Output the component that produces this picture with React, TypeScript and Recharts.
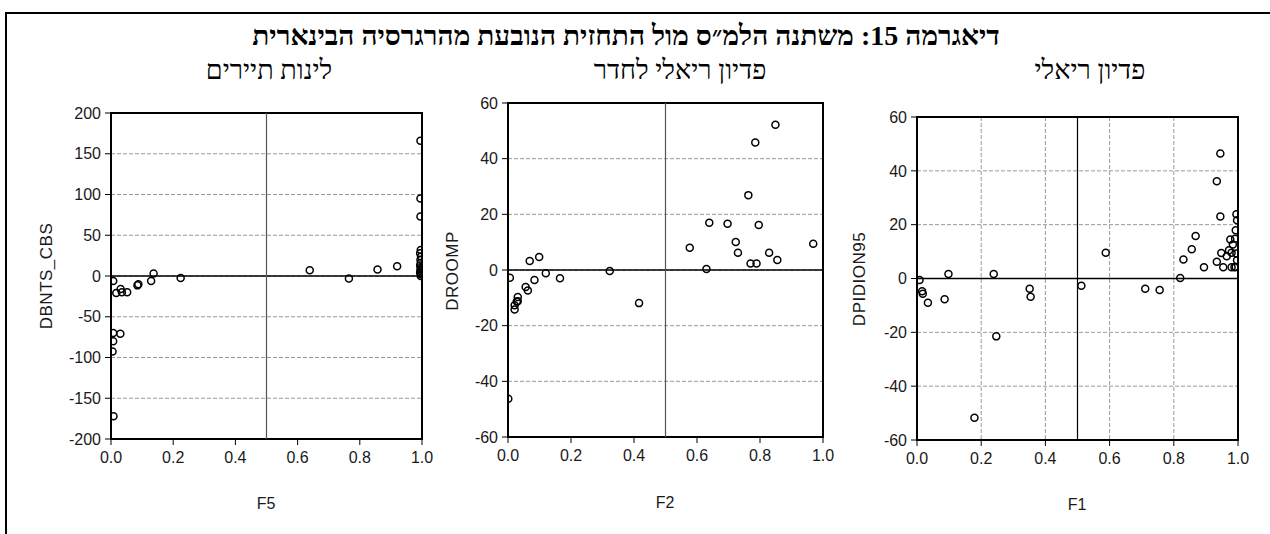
import React from "react";
import {
  ScatterChart,
  Scatter,
  XAxis,
  YAxis,
  CartesianGrid,
  ReferenceLine,
  ReferenceArea,
} from "recharts";

// ---- Titles ----
const mainTitle = "דיאגרמה 15: משתנה הלמ״ס מול התחזית הנובעת מהרגרסיה הבינארית";
const panelTitles = ["לינות תיירים", "פדיון ריאלי לחדר", "פדיון ריאלי"];
const xAxisNames = ["F5", "F2", "F1"];
const yAxisNames = ["DBNTS_CBS", "DROOMP", "DPIDION95"];

// ---- Tick labels ----
const xTicks = [0, 0.2, 0.4, 0.6, 0.8, 1.0];
const yTicks1 = [-200, -150, -100, -50, 0, 50, 100, 150, 200];
const yTicks2 = [-60, -40, -20, 0, 20, 40, 60];
const yTicks3 = [-60, -40, -20, 0, 20, 40, 60];

// ---- Panel 1: F5 vs DBNTS_CBS ----
const F5 = [
  0.007, 0.017, 0.031, 0.035, 0.052, 0.085, 0.088, 0.129, 0.137, 0.224,
  0.007, 0.007, 0.005, 0.030, 0.008,
  0.639, 0.765, 0.857, 0.920,
  0.995, 0.995, 0.995, 0.996, 0.994, 0.997, 0.995, 0.996, 0.994, 0.997, 0.995, 0.996, 0.994, 0.997, 0.996,
];
const DBNTS_CBS = [
  -6, -21, -16, -20, -20, -11.5, -10, -6, 3, -2.5,
  -70, -80, -92.5, -71, -172,
  7, -3, 8, 12,
  166, 95, 73, 32, 28, 24, 20, 16, 13, 10, 8, 6, 4, 2, 0,
];

// ---- Panel 2: F2 vs DROOMP ----
const F2 = [
  0.849, 0.785, 0.763, 0.639, 0.697, 0.796, 0.969, 0.723, 0.730, 0.829,
  0.577, 0.770, 0.789, 0.855, 0.630, 0.323, 0.416, 0.165, 0.120, 0.084,
  0.099, 0.069, 0.056, 0.063, 0.006, 0.031, 0.031, 0.021, 0.021, 0.028, 0.001,
];
const DROOMP = [
  52.2, 45.8, 26.9, 17.0, 16.6, 16.2, 9.4, 10.1, 6.2, 6.2,
  8.0, 2.3, 2.3, 3.6, 0.4, -0.4, -11.9, -3.0, -1.2, -3.6,
  4.7, 3.2, -6.1, -7.4, -2.8, -9.7, -11.2, -12.7, -14.2, -11.3, -46.3,
];

// ---- Panel 3: F1 vs DPIDION95 ----
const F1 = [
  0.008, 0.016, 0.018, 0.034, 0.086, 0.098, 0.179, 0.239, 0.247, 0.351,
  0.354, 0.512, 0.588, 0.711, 0.756, 0.820, 0.830, 0.856, 0.868, 0.894,
  0.934, 0.945, 0.945, 0.934, 0.948, 0.954, 0.965, 0.972, 0.976, 0.980,
  0.984, 0.980, 0.989, 0.991, 0.993, 0.995, 0.997, 0.995, 0.997, 0.993,
];
const DPIDION95 = [
  -0.6, -4.7, -5.7, -9.0, -7.7, 1.7, -51.7, 1.7, -21.5, -3.8,
  -6.8, -2.7, 9.6, -3.8, -4.3, 0.2, 7.1, 10.9, 15.8, 4.2,
  36.1, 46.4, 23.0, 6.2, 9.5, 4.2, 8.3, 10.5, 14.5, 9.6,
  12.6, 4.2, 4.2, 14.8, 17.9, 23.9, 21.6, 9.3, 6.8, 4.3,
];

const toPoints = (xs: number[], ys: number[]) => xs.map((x, i) => ({ x, y: ys[i] }));

const latinFont = "'Liberation Sans', Arial, sans-serif";
const tickFont = { fill: "#1a1a1a", fontSize: 16, fontFamily: latinFont };
const hebFont = "'Liberation Serif', 'DejaVu Serif', serif";

const Ring = (props: any) => {
  const { cx, cy } = props;
  if (cx == null || cy == null) return <g />;
  return <circle cx={cx} cy={cy} r={3.5} fill="none" stroke="#000" strokeWidth={1.5} />;
};

type PanelProps = {
  left: number;
  width: number;
  margin: { top: number; right: number; bottom: number; left: number };
  data: { x: number; y: number }[];
  yDomain: [number, number];
  yTicks: number[];
  vLineColor: string;
  verticalGrid: boolean;
};

const Panel = ({ left, width, margin, data, yDomain, yTicks, vLineColor, verticalGrid }: PanelProps) => (
  <div style={{ position: "absolute", left, top: 0 }}>
    <ScatterChart width={width} height={534} margin={margin}>
      <CartesianGrid stroke="#9a9a9a" strokeDasharray="4 2" vertical={verticalGrid} horizontal={true} />
      <XAxis
        type="number"
        dataKey="x"
        domain={[0, 1]}
        ticks={xTicks}
        tickFormatter={(v: number) => v.toFixed(1)}
        tick={tickFont}
        tickSize={6}
        tickMargin={7}
        height={30}
        axisLine={false}
        tickLine={{ stroke: "#000" }}
        allowDataOverflow
      />
      <YAxis
        type="number"
        dataKey="y"
        domain={yDomain}
        ticks={yTicks}
        tick={tickFont}
        tickSize={6}
        tickMargin={4}
        width={60}
        axisLine={false}
        tickLine={{ stroke: "#000" }}
        allowDataOverflow
      />
      <ReferenceLine y={0} stroke="#000" strokeWidth={1.5} />
      <ReferenceLine x={0.5} stroke={vLineColor} strokeWidth={1.2} />
      <ReferenceArea
        x1={0}
        x2={1}
        y1={yDomain[0]}
        y2={yDomain[1]}
        fill="none"
        fillOpacity={0}
        stroke="#000"
        strokeWidth={2}
      />
      <Scatter data={data} shape={Ring} isAnimationActive={false} />
    </ScatterChart>
  </div>
);

const AxisName = ({ x, y, text, rotate }: { x: number; y: number; text: string; rotate?: boolean }) => (
  <div
    style={{
      position: "absolute",
      left: x,
      top: y,
      transform: `translate(-50%, -50%)${rotate ? " rotate(-90deg)" : ""}`,
      fontFamily: latinFont,
      fontSize: rotate ? 17 : 16,
      letterSpacing: rotate ? 0.5 : 0,
      color: "#1a1a1a",
      whiteSpace: "nowrap",
      lineHeight: 1,
    }}
  >
    {text}
  </div>
);

const HebText = ({ x, y, text, size, bold }: { x: number; y: number; text: string; size: number; bold?: boolean }) => (
  <div
    dir="rtl"
    style={{
      position: "absolute",
      left: x,
      top: y,
      transform: "translate(-50%, -50%)",
      fontFamily: hebFont,
      fontSize: size,
      fontWeight: bold ? 700 : 400,
      color: "#000",
      whiteSpace: "nowrap",
      lineHeight: 1,
    }}
  >
    {text}
  </div>
);

export default function App() {
  return (
    <div
      style={{
        position: "absolute",
        left: 0,
        top: 0,
        width: 1270,
        height: 534,
        background: "#fff",
        overflow: "hidden",
      }}
    >
      <div
        style={{
          position: "absolute",
          left: 5,
          top: 12,
          width: 1270,
          height: 540,
          borderLeft: "2px solid #000",
          borderTop: "2px solid #000",
        }}
      />
      <HebText x={626} y={36} text={mainTitle} size={28} bold />
      <HebText x={269} y={70} text={panelTitles[0]} size={27} />
      <HebText x={680} y={70} text={panelTitles[1]} size={27} />
      <HebText x={1090} y={70} text={panelTitles[2]} size={27} />

      <Panel
        left={0}
        width={440}
        margin={{ top: 113, right: 18, bottom: 65, left: 51 }}
        data={toPoints(F5, DBNTS_CBS)}
        yDomain={[-200, 200]}
        yTicks={yTicks1}
        vLineColor="#555"
        verticalGrid={false}
      />
      <Panel
        left={440}
        width={400}
        margin={{ top: 103, right: 17, bottom: 67, left: 8 }}
        data={toPoints(F2, DROOMP)}
        yDomain={[-60, 60]}
        yTicks={yTicks2}
        vLineColor="#555"
        verticalGrid={false}
      />
      <Panel
        left={840}
        width={430}
        margin={{ top: 117, right: 32, bottom: 64, left: 17 }}
        data={toPoints(F1, DPIDION95)}
        yDomain={[-60, 60]}
        yTicks={yTicks3}
        vLineColor="#000"
        verticalGrid={true}
      />

      <AxisName x={46} y={276} text={yAxisNames[0]} rotate />
      <AxisName x={452} y={271} text={yAxisNames[1]} rotate />
      <AxisName x={859} y={279} text={yAxisNames[2]} rotate />
      <AxisName x={266} y={504} text={xAxisNames[0]} />
      <AxisName x={665} y={503} text={xAxisNames[1]} />
      <AxisName x={1077} y={505} text={xAxisNames[2]} />
    </div>
  );
}
